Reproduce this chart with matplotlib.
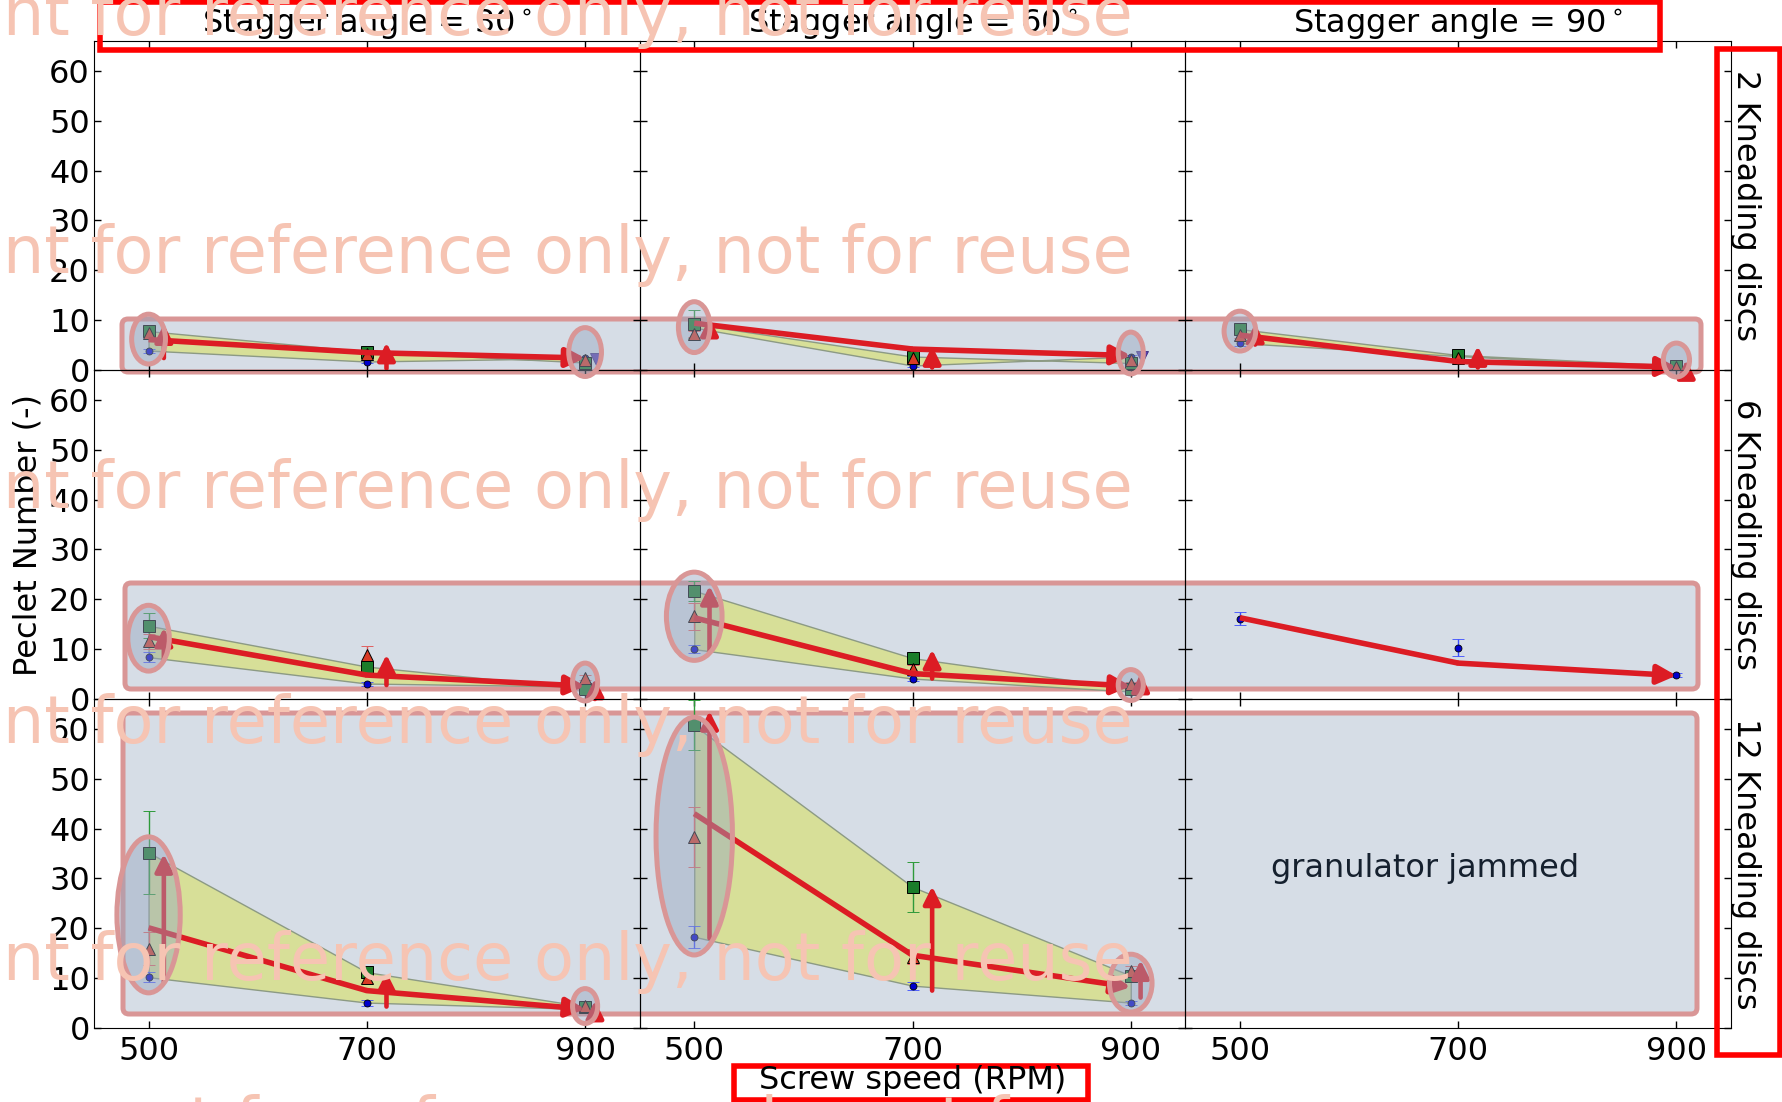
import numpy as np
import matplotlib.pyplot as plt
from matplotlib.patches import Ellipse, FancyBboxPatch, Rectangle
from matplotlib.transforms import offset_copy

nan = np.nan

speed = [500, 700, 900]
stagger_titles = [r'Stagger angle = 30$^\circ$', r'Stagger angle = 60$^\circ$', r'Stagger angle = 90$^\circ$']
row_titles = ['2 Kneading discs', '6 Kneading discs', '12 Kneading discs']

# one list per stagger angle (30, 60, 90), values at 500 / 700 / 900 RPM
circ_2kd = [[3.9, 1.7, 2.4], [8.5, 0.9, 2.7], [5.4, 2.8, 0.5]]
circ_6kd = [[8.4, 3.1, 2.5], [10.0, 4.1, 1.5], [16.1, 10.3, 4.8]]
circ_12kd = [[10.2, 5.1, 3.8], [18.3, 8.5, 5.1], [nan, nan, nan]]
circ_err_2kd = [[0.4, 0.3, 0.3], [0.5, 0.3, 0.3], [0.6, 0.3, 0.2]]
circ_err_6kd = [[1.0, 0.4, 0.3], [0.8, 0.5, 0.3], [1.3, 1.7, 0.4]]
circ_err_12kd = [[1.0, 0.6, 0.4], [2.2, 0.8, 0.4], [nan, nan, nan]]

sq_2kd = [[7.8, 3.7, 1.5], [9.2, 2.7, 1.4], [8.2, 3.0, 0.9]]
sq_6kd = [[14.7, 6.5, 2.1], [21.7, 8.2, 2.1], [nan, nan, nan]]
sq_12kd = [[35.2, 11.2, 4.3], [60.7, 28.3, 10.5], [nan, nan, nan]]
sq_err_2kd = [[0.6, 0.4, 0.3], [2.8, 0.4, 0.3], [0.4, 0.3, 0.2]]
sq_err_6kd = [[2.5, 0.6, 0.3], [2.0, 0.8, 0.3], [nan, nan, nan]]
sq_err_12kd = [[8.3, 1.2, 0.5], [5.0, 5.0, 1.0], [nan, nan, nan]]

tri_2kd = [[7.5, 3.2, 2.0], [7.3, 2.5, 2.0], [7.0, 2.5, 0.6]]
tri_6kd = [[11.6, 8.9, 4.3], [16.6, 6.1, 3.1], [nan, nan, nan]]
tri_12kd = [[15.9, 10.0, 4.5], [38.3, 14.3, 11.5], [nan, nan, nan]]
tri_err_2kd = [[0.5, 0.4, 0.3], [0.6, 0.4, 0.3], [0.5, 0.3, 0.2]]
tri_err_6kd = [[1.5, 1.8, 0.5], [2.7, 0.8, 0.4], [nan, nan, nan]]
tri_err_12kd = [[3.3, 1.0, 0.5], [6.0, 1.5, 1.0], [nan, nan, nan]]

inv_2kd = [[nan, nan, 2.2], [nan, nan, 2.6], [nan, nan, nan]]

# red trend line through each panel
trend_2kd = [[6.1, 3.5, 2.4], [9.4, 4.2, 2.9], [7.0, 1.7, 0.6]]
trend_6kd = [[12.5, 4.8, 2.6], [16.3, 5.1, 2.6], [16.3, 7.2, 4.7]]
trend_12kd = [[20.1, 7.5, 3.8], [43.0, 14.6, 8.2], [nan, nan, nan]]

# vertical spread arrows (from, to)
rise_lo_2kd = [[2.4, 0.3, nan], [7.0, 0.5, nan], [5.1, 0.5, 0.0]]
rise_hi_2kd = [[9.2, 5.5, nan], [10.5, 4.8, nan], [9.3, 4.8, 2.0]]
rise_lo_6kd = [[7.8, 2.8, 0.0], [9.5, 4.1, 2.4], [nan, nan, nan]]
rise_hi_6kd = [[14.3, 8.9, 4.1], [22.7, 9.9, 5.1], [nan, nan, nan]]
rise_lo_12kd = [[9.2, 4.3, 3.1], [18.0, 7.5, 6.1], [nan, nan, nan]]
rise_hi_12kd = [[34.9, 11.2, 5.5], [63.6, 28.4, 13.6], [nan, nan, nan]]

# highlight ellipses at 500 and 900 RPM (centre, height, width)
ell_y_2kd = [[6.2, 3.6], [8.6, 3.4], [7.8, 2.0]]
ell_h_2kd = [[10.0, 9.8], [10.2, 8.4], [8.0, 6.8]]
ell_w_2kd = [[31, 30], [29, 23], [29, 24]]
ell_y_6kd = [[12.2, 3.4], [16.6, 2.8], [nan, nan]]
ell_h_6kd = [[13.2, 7.6], [17.7, 6.2], [nan, nan]]
ell_w_6kd = [[38, 23], [51, 23], [nan, nan]]
ell_y_12kd = [[22.7, 4.4], [38.5, 9.0], [nan, nan]]
ell_h_12kd = [[31.3, 7.0], [47.7, 11.6], [nan, nan]]
ell_w_12kd = [[58, 23], [70, 39], [nan, nan]]

circ = [circ_2kd, circ_6kd, circ_12kd]
circ_err = [circ_err_2kd, circ_err_6kd, circ_err_12kd]
sq = [sq_2kd, sq_6kd, sq_12kd]
sq_err = [sq_err_2kd, sq_err_6kd, sq_err_12kd]
tri = [tri_2kd, tri_6kd, tri_12kd]
tri_err = [tri_err_2kd, tri_err_6kd, tri_err_12kd]
trend = [trend_2kd, trend_6kd, trend_12kd]
rise_lo = [rise_lo_2kd, rise_lo_6kd, rise_lo_12kd]
rise_hi = [rise_hi_2kd, rise_hi_6kd, rise_hi_12kd]
ell_y = [ell_y_2kd, ell_y_6kd, ell_y_12kd]
ell_h = [ell_h_2kd, ell_h_6kd, ell_h_12kd]
ell_w = [ell_w_2kd, ell_w_6kd, ell_w_12kd]

W, H = 1782, 1102
FS = 23
RED = '#dc1c24'
PINK = '#d99696'
rise_dx = [14, 18, 9]

plt.rcParams['font.family'] = ['DejaVu Sans']
fig, axes = plt.subplots(3, 3, sharex=True, sharey=True, figsize=(W / 100, H / 100), dpi=100)
plt.subplots_adjust(left=94 / W, right=1731 / W, top=1 - 41 / H, bottom=1 - 1028 / H,
                    wspace=0, hspace=0)

for i in range(3):
    for j in range(3):
        ax = axes[i, j]
        ax.set_facecolor('none')
        ax.set_xlim(450, 950)
        ax.set_ylim(0, 66)
        ax.set_xticks(speed)
        ax.set_yticks(range(0, 61, 10))
        ax.tick_params(direction='in', length=5, width=1, top=True, right=True, labelsize=FS)
        ax.tick_params(axis='x', pad=6)
        ax.tick_params(axis='y', pad=3)
        if i == 0:
            ax.set_title(stagger_titles[j], fontsize=FS, pad=5)

        c = np.array(circ[i][j], dtype=float)
        s = np.array(sq[i][j], dtype=float)
        if not np.all(np.isnan(s)):
            ax.fill_between(speed, c, s, color='#d7df98', edgecolor='#8c9a84', lw=1, zorder=1)

        ax.errorbar(speed, c, yerr=circ_err[i][j], fmt='o', ms=5, mfc='#0000cc', mec='k', mew=0.6,
                    ecolor='#3a4cff', elinewidth=1, capsize=4, zorder=3)
        ax.errorbar(speed, s, yerr=sq_err[i][j], fmt='s', ms=8, mfc='#1b7d2a', mec='k', mew=0.7,
                    ecolor='#2e9a3a', elinewidth=1, capsize=4, zorder=3)
        ax.errorbar(speed, tri[i][j], yerr=tri_err[i][j], fmt='^', ms=8, mfc='#d83a26', mec='k', mew=0.7,
                    ecolor='#e06060', elinewidth=1, capsize=4, zorder=3)
        if i == 0:
            shift = offset_copy(ax.transData, fig=fig, x=11, y=0, units='dots')
            ax.plot(speed, inv_2kd[j], 'v', ms=8, mfc='#5a3fb0', mec='#3a2a80', mew=0.6,
                    transform=shift, zorder=3)

        t = trend[i][j]
        if not np.isnan(t[0]):
            ax.plot(speed[:2], t[:2], color=RED, lw=4, solid_capstyle='butt', zorder=5)
            ax.annotate('', xy=(speed[2], t[2]), xytext=(speed[1], t[1]),
                        arrowprops=dict(arrowstyle='-|>', color=RED, lw=4, mutation_scale=28,
                                        shrinkA=0, shrinkB=0), zorder=5)
        for k in range(3):
            lo, hi = rise_lo[i][j][k], rise_hi[i][j][k]
            if np.isnan(lo):
                continue
            x = speed[k] + rise_dx[k]
            ax.annotate('', xy=(x, hi), xytext=(x, lo), annotation_clip=False,
                        arrowprops=dict(arrowstyle='-|>', color=RED, lw=3.3, mutation_scale=26,
                                        shrinkA=0, shrinkB=0), zorder=5)

        for k, xs in enumerate([speed[0], speed[2]]):
            if np.isnan(ell_y[i][j][k]):
                continue
            e = Ellipse((xs, ell_y[i][j][k]), ell_w[i][j][k], ell_h[i][j][k], transform=ax.transData,
                        facecolor=(0.59, 0.65, 0.75, 0.45), edgecolor=PINK, lw=3.6, zorder=2)
            fig.add_artist(e)

axes[2, 2].text(670, 32, 'granulator jammed', fontsize=FS, ha='center', va='center', color='#15202e')

# rounded highlight bands (inches, figure is 100 dpi)
for x0, y0, w, h in [(1.22, 7.30, 15.79, 0.53), (1.25, 4.13, 15.73, 1.06), (1.23, 0.88, 15.74, 3.01)]:
    fig.add_artist(FancyBboxPatch((x0, y0), w, h, boxstyle='round,pad=0,rounding_size=0.06',
                                  transform=fig.dpi_scale_trans, facecolor='#d6dde6',
                                  edgecolor=PINK, lw=3.6, zorder=-1))

# red frames
for x0, y0, w, h in [(1.00, 10.52, 15.60, 0.48), (17.17, 0.47, 0.63, 10.06), (7.34, 0.02, 3.54, 0.34)]:
    fig.add_artist(Rectangle((x0, y0), w, h, transform=fig.dpi_scale_trans, fill=False,
                             edgecolor='#ff0000', lw=4, zorder=3))

fig.text(28 / W, 1 - 534.5 / H, 'Peclet Number (-)', rotation=90, ha='center', va='center', fontsize=FS)
fig.text(912.5 / W, 1 - 1081 / H, 'Screw speed (RPM)', ha='center', va='center', fontsize=FS)
for i, lab in enumerate(row_titles):
    yc = 41 + 329 * (i + 0.5)
    fig.text(1745 / W, 1 - yc / H, lab, rotation=270, ha='center', va='center', fontsize=FS)

# watermark
for yc, xr in [(17, 1133), (255, 1133), (490, 1133), (725, 1133), (962, 1133), (1126, 1278)]:
    fig.text(xr / W, 1 - yc / H, 'nt for reference only, not for reuse', ha='right', va='center',
             fontsize=47, color='#f6c4b3', zorder=4)

fig.savefig('out.png', dpi=100)
